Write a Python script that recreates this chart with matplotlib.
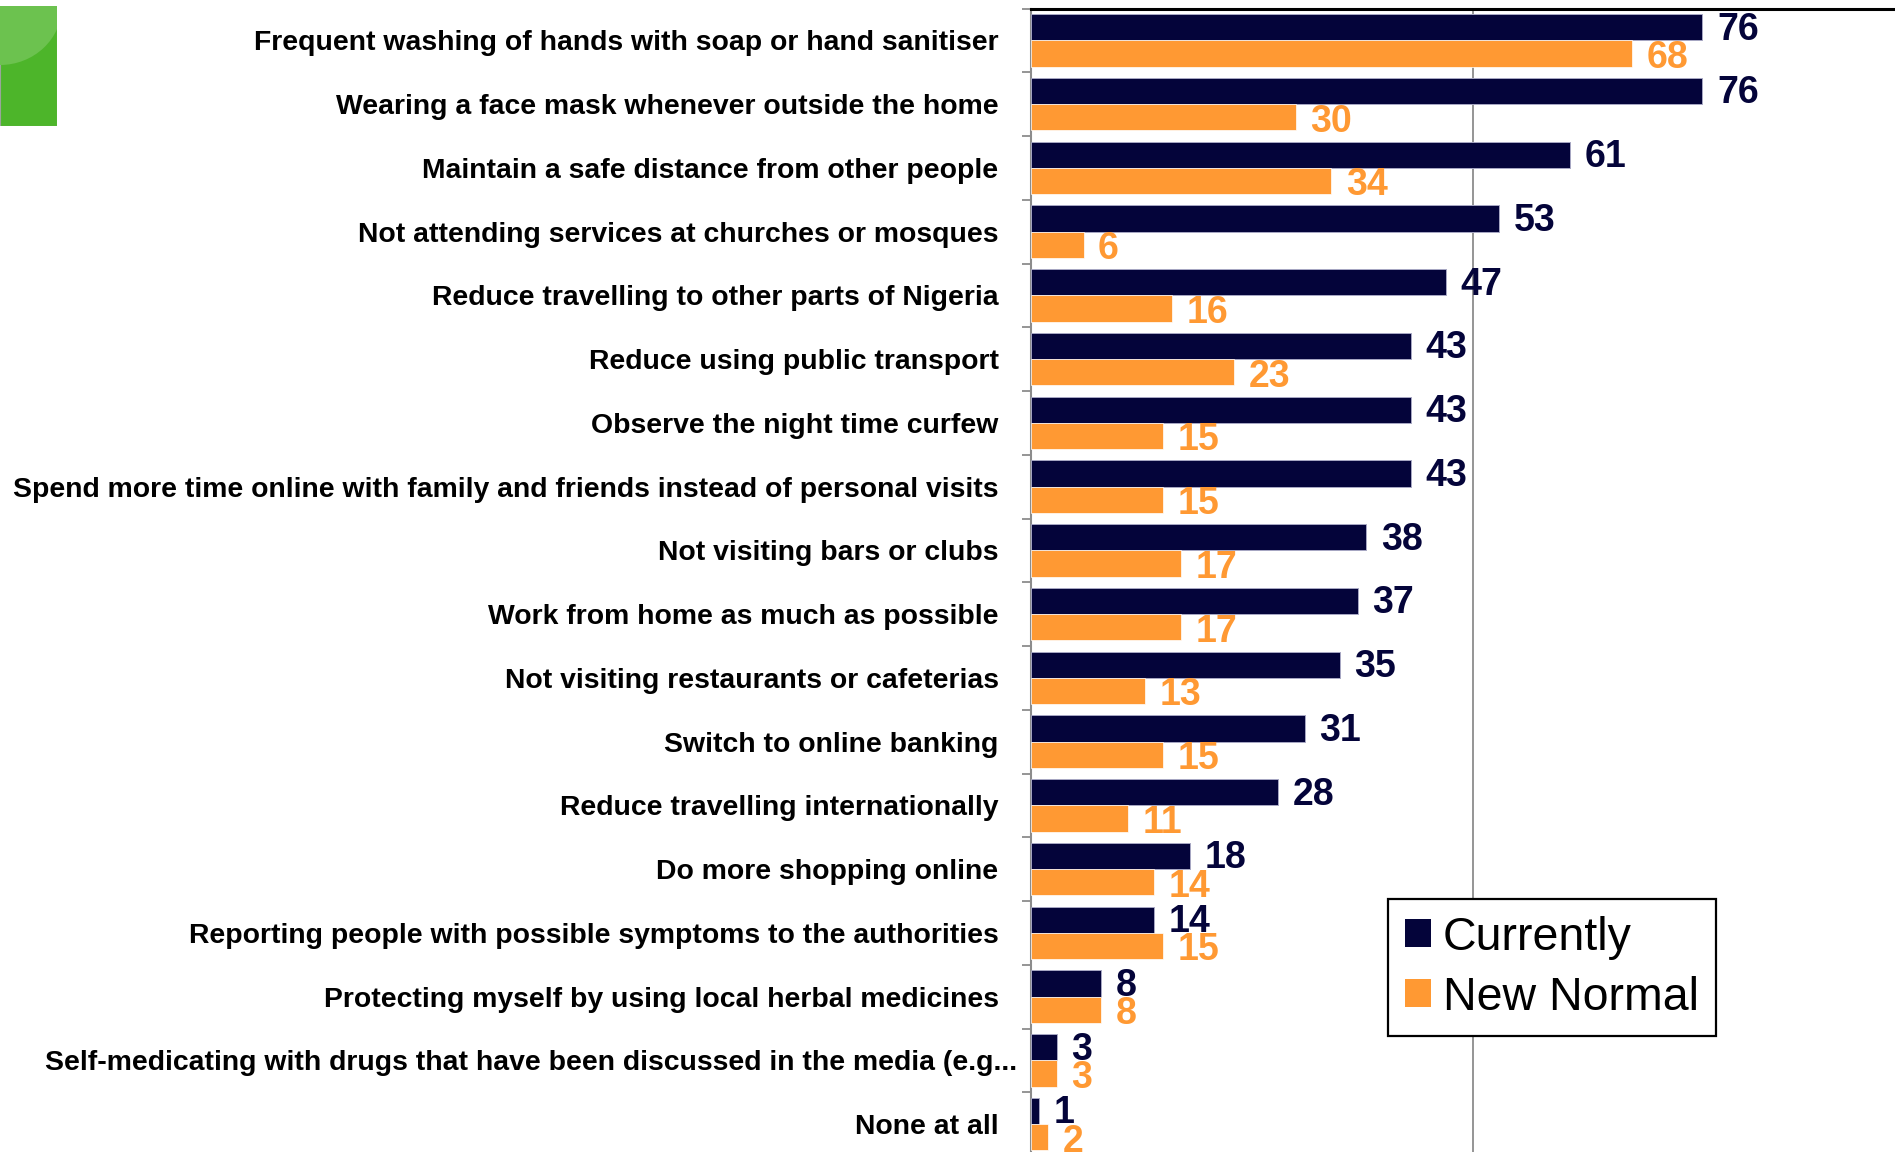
import matplotlib
matplotlib.use("Agg")
import matplotlib.pyplot as plt
from matplotlib.patches import Rectangle, Ellipse, Patch
from matplotlib.transforms import ScaledTranslation
import numpy as np

plt.rcParams['font.family'] = ['Liberation Sans', 'DejaVu Sans']

categories = [
    "Frequent washing of hands with soap or hand sanitiser",
    "Wearing a face mask whenever outside the home",
    "Maintain a safe distance from other people",
    "Not attending services at churches or mosques",
    "Reduce travelling to other parts of Nigeria",
    "Reduce using public transport",
    "Observe the night time curfew",
    "Spend more time online with family and friends instead of personal visits",
    "Not visiting bars or clubs",
    "Work from home as much as possible",
    "Not visiting restaurants or cafeterias",
    "Switch to online banking",
    "Reduce travelling internationally",
    "Do more shopping online",
    "Reporting people with possible symptoms to the authorities",
    "Protecting myself by using local herbal medicines",
    "Self-medicating with drugs that have been discussed in the media (e.g...",
    "None at all",
]
currently = [76, 76, 61, 53, 47, 43, 43, 43, 38, 37, 35, 31, 28, 18, 14, 8, 3, 1]
new_normal = [68, 30, 34, 6, 16, 23, 15, 15, 17, 17, 13, 15, 11, 14, 15, 8, 3, 2]
series_names = ["Currently", "New Normal"]

NAVY = "#04043a"
ORANGE = "#FF9933"

W, H = 1895, 1152
fig = plt.figure(figsize=(W / 100, H / 100), dpi=100)

# main bar axes
ax_left = 1030.5 / W
ax_top = 1 - 8.5 / H
ax_h = 18 * 63.75 / H
ax_w = 884 / W
ax = fig.add_axes([ax_left, ax_top - ax_h, ax_w, ax_h])

n = len(categories)
y = np.arange(n)
bh = 0.41
ax.barh(y - bh / 2, currently, height=bh, color=NAVY,
        edgecolor="#a8a8c4", linewidth=0.7, zorder=3)
ax.barh(y + bh / 2, new_normal, height=bh, color=ORANGE,
        edgecolor="#ffffff", linewidth=0.5, zorder=3)

for i, (c, nn) in enumerate(zip(currently, new_normal)):
    ax.annotate(f"{c}", xy=(c, i - bh / 2), xytext=(10.5, -1.6),
                textcoords="offset points", ha="left", va="center",
                fontsize=27, fontweight="bold", color=NAVY, zorder=4)
    ax.annotate(f"{nn}", xy=(nn, i + bh / 2), xytext=(10.5, -3.2),
                textcoords="offset points", ha="left", va="center",
                fontsize=27, fontweight="bold", color=ORANGE, zorder=4)

ax.set_xlim(0, 100)
ax.set_ylim(n - 0.5, -0.5)

# vertical reference line at 50
ax.axvline(50, color="#8c8c8c", linewidth=1.3, zorder=1)

ax.set_xticks([])
ax.set_yticks(y)
ax.set_yticklabels(categories, fontsize=20.4, fontweight="bold")
ax.tick_params(axis="y", which="major", length=0, pad=23)
ax.set_yticks(np.arange(n + 1) - 0.5, minor=True)
ax.tick_params(axis="y", which="minor", length=6.5, width=1.3,
               color="#8c8c8c", direction="out")

# the truncated long label sits a little closer to the axis
long_label = ax.get_yticklabels()[16]
long_label.set_transform(long_label.get_transform()
                         + ScaledTranslation(19 / 100, 0, fig.dpi_scale_trans))

for side in ("right", "bottom"):
    ax.spines[side].set_visible(False)
ax.spines["left"].set_color("#8c8c8c")
ax.spines["left"].set_linewidth(1.5)
ax.spines["top"].set_color("black")
ax.spines["top"].set_linewidth(2.2)

handles = [Patch(facecolor=NAVY, edgecolor="none"),
           Patch(facecolor=ORANGE, edgecolor="none")]
leg = fig.legend(handles, series_names, loc="upper left",
                 bbox_to_anchor=(1388 / W, 1 - 899 / H),
                 bbox_transform=fig.transFigure, borderaxespad=0,
                 fontsize=33.5, frameon=True, fancybox=False, framealpha=1,
                 edgecolor="black", handlelength=0.56, handleheight=0.55,
                 handletextpad=0.26, borderpad=0.36, labelspacing=0.34)
leg.get_frame().set_linewidth(1.6)

# green glossy badge in the corner
gx = fig.add_axes([0, 1 - 126 / H, 57 / W, 120 / H])
gx.set_xlim(0, 57)
gx.set_ylim(126, 6)
gx.axis("off")
base = Rectangle((0, 6), 57, 120, facecolor="#4db52a", edgecolor="#9aa59a",
                 linewidth=0.8)
gx.add_patch(base)
gloss = Ellipse((0, 6), 124, 118, facecolor="#6cc24f", edgecolor="none")
gx.add_patch(gloss)
gloss.set_clip_path(base)

fig.savefig("out.png", dpi=100)
